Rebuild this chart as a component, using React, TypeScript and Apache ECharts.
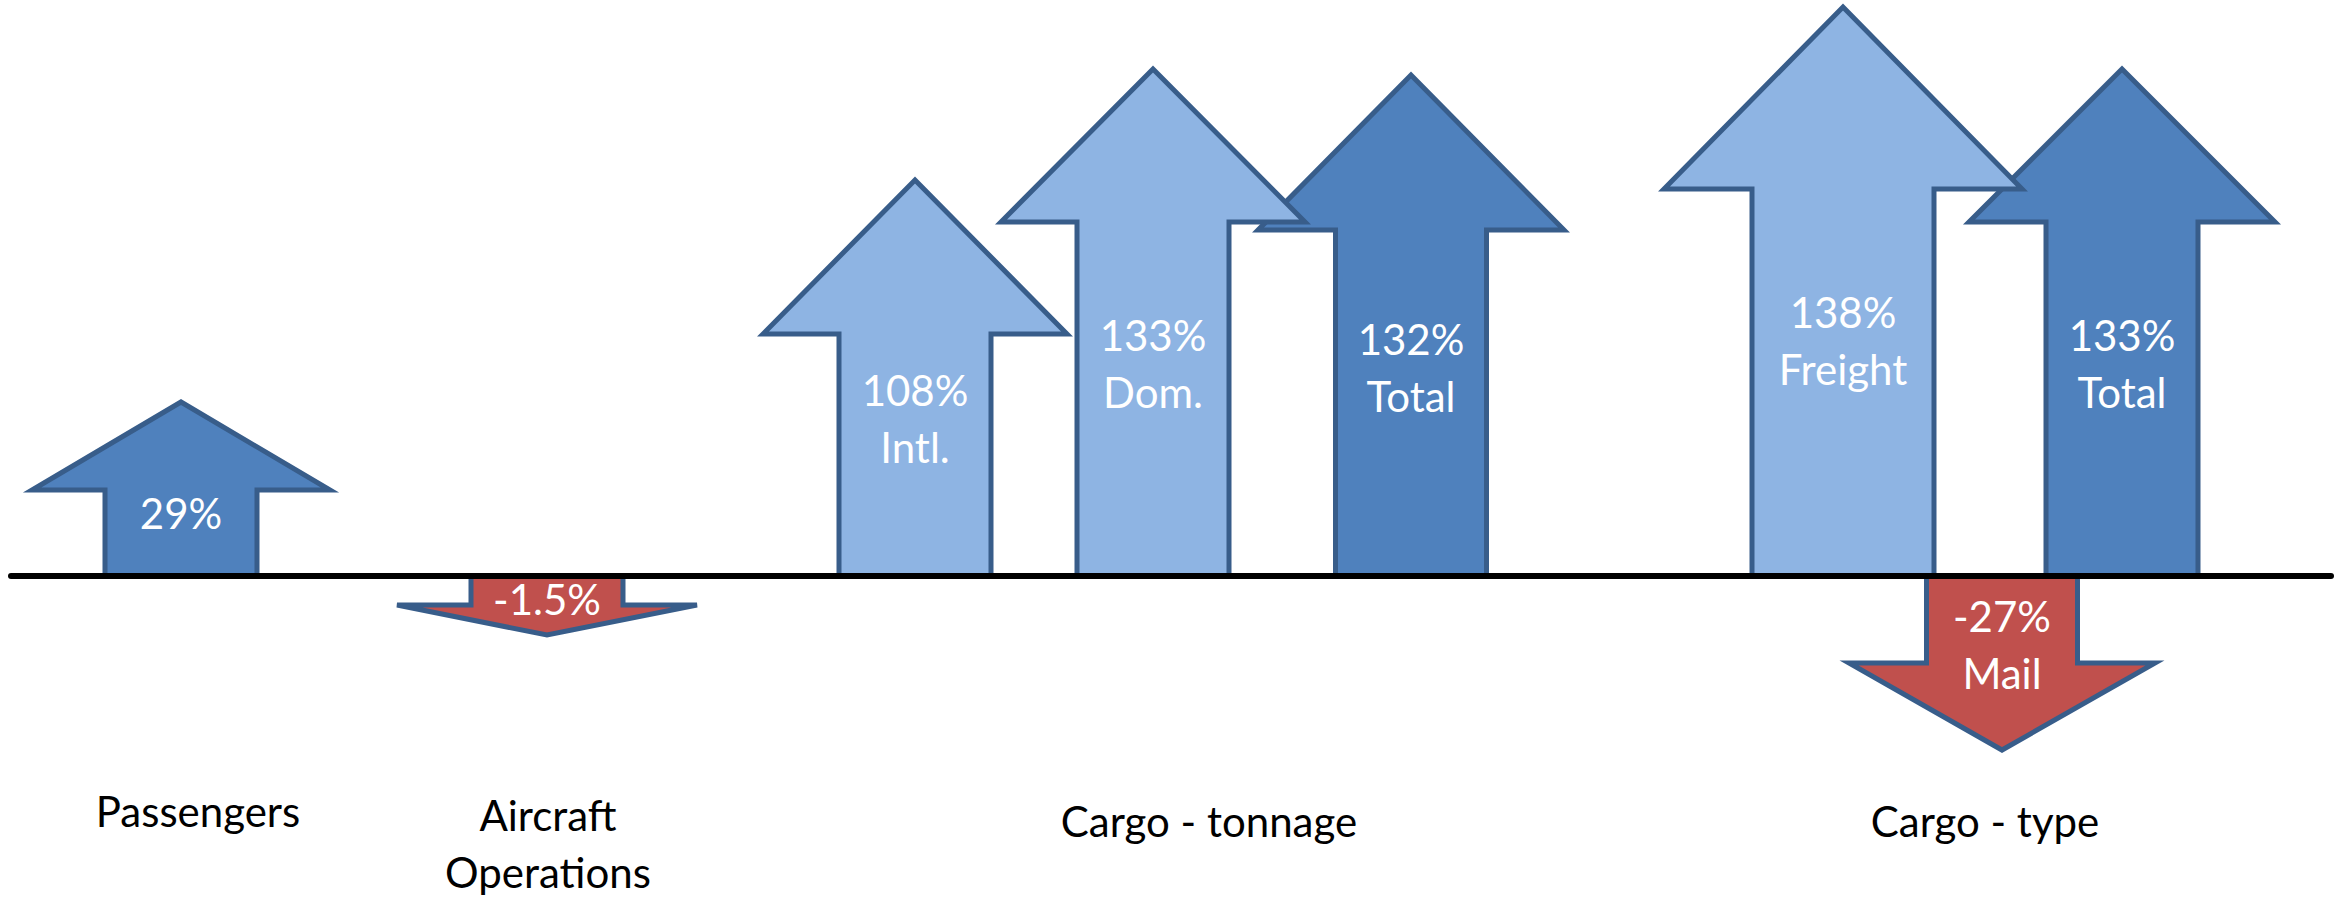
import React, { useEffect, useRef } from "react";
import * as echarts from "echarts";

// ---- data ----
const groupNames = ["Passengers", "Aircraft\nOperations", "Cargo - tonnage", "Cargo - type"];
const arrowNames = ["", "", "Intl.", "Dom.", "Total", "Freight", "Total", "Mail"];
const arrowPercent = [29, -1.5, 108, 133, 132, 138, 133, -27];
// drawn length of each arrow (y-axis units), as it appears in the picture
const arrowLength = [174, -59, 396, 507, 501, 569, 507, -174];
const arrowTone = ["dark", "red", "light", "light", "dark", "light", "dark", "red"];

// ---- layout (axis units) ----
const arrowX = [181, 547, 915, 1153, 1411, 1843, 2122, 2002];
const shaftW = [152, 152, 152, 152, 151, 182, 152, 151];
const headW = [298, 300, 304, 304, 306, 358, 306, 306];
const headH = [88, 30, 154, 153, 155, 182, 153, 87];
const labelY = [63, -23, 157.5, 212.5, 208.5, 236, 212.5, -68];
const drawOrder = [1, 2, 3, 5, 4, 7, 6, 8];
const groupX = [198, 548, 1209, 1985];
const groupY = [-235, -267.5, -245, -245];

const FILLS: Record<string, string> = {
  dark: "#4F81BD",
  light: "#8EB4E3",
  red: "#C0504D",
};
const STROKE = "#385D8A";
const FONT = "Lato, 'Noto Sans', sans-serif";

export default function App() {
  const ref = useRef<HTMLDivElement>(null);

  useEffect(() => {
    if (!ref.current) return;
    const chart = echarts.init(ref.current, undefined, { renderer: "svg" });

    const option = {
      animation: false,
      backgroundColor: "#ffffff",
      grid: { left: 11, right: 15, top: 0, bottom: 0 },
      xAxis: {
        type: "value",
        min: 11,
        max: 2331,
        z: 10,
        axisLine: { show: true, onZero: true, lineStyle: { color: "#000000", width: 6 } },
        axisTick: { show: false },
        axisLabel: { show: false },
        splitLine: { show: false },
      },
      yAxis: {
        type: "value",
        min: -324,
        max: 576,
        show: false,
        splitLine: { show: false },
      },
      series: [
        {
          type: "custom",
          data: arrowLength.map((len, i) => [arrowX[i], len]),
          renderItem: (params: any, api: any) => {
            const i = params.dataIndex;
            const cx = api.value(0);
            const L = api.value(1);
            const s = L >= 0 ? 1 : -1;
            const sw = shaftW[i] / 2;
            const hw = headW[i] / 2;
            const hb = L - s * headH[i];
            const pts = [
              [cx - sw, 0],
              [cx - sw, hb],
              [cx - hw, hb],
              [cx, L],
              [cx + hw, hb],
              [cx + sw, hb],
              [cx + sw, 0],
            ].map((p) => api.coord(p));
            const pct = `${arrowPercent[i]}%`;
            const txt = arrowNames[i] ? `${pct}\n${arrowNames[i]}` : pct;
            const lp = api.coord([cx, labelY[i]]);
            return {
              type: "group",
              children: [
                {
                  type: "polygon",
                  z2: drawOrder[i],
                  shape: { points: pts },
                  style: {
                    fill: FILLS[arrowTone[i]],
                    stroke: STROKE,
                    lineWidth: 5,
                    lineJoin: "miter",
                    miterLimit: 8,
                  },
                },
                {
                  type: "text",
                  z2: 100,
                  style: {
                    text: txt,
                    x: lp[0],
                    y: lp[1],
                    fill: "#ffffff",
                    font: `42px ${FONT}`,
                    lineHeight: 57,
                    align: "center",
                    verticalAlign: "middle",
                  },
                },
              ],
            };
          },
        },
        {
          type: "custom",
          data: groupNames.map((g, i) => [groupX[i], groupY[i]]),
          renderItem: (params: any, api: any) => {
            const i = params.dataIndex;
            const p = api.coord([api.value(0), api.value(1)]);
            return {
              type: "text",
              style: {
                text: groupNames[i],
                x: p[0],
                y: p[1],
                fill: "#000000",
                font: `42px ${FONT}`,
                lineHeight: 57,
                align: "center",
                verticalAlign: "middle",
              },
            };
          },
        },
      ],
    };

    chart.setOption(option as any);
    return () => chart.dispose();
  }, []);

  return (
    <div
      ref={ref}
      style={{ position: "absolute", left: 0, top: 0, width: 2346, height: 900 }}
    />
  );
}
